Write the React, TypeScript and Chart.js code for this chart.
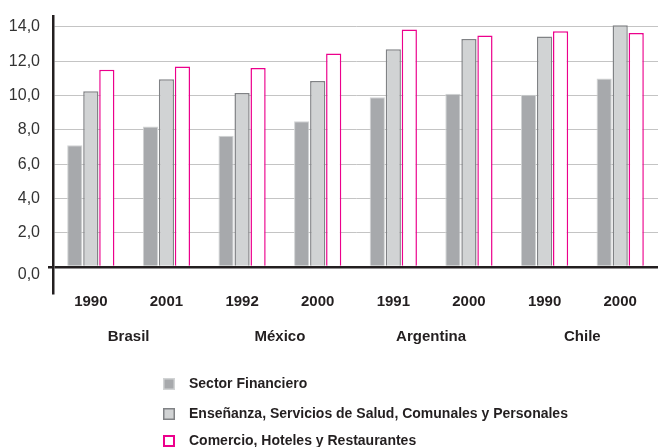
import { useEffect, useRef } from 'react';
import { Chart, registerables } from 'chart.js';

Chart.register(...registerables);

const years = ['1990', '2001', '1992', '2000', '1991', '2000', '1990', '2000'];
const countries = ['Brasil', 'México', 'Argentina', 'Chile'];
const yTicks = [0, 2, 4, 6, 8, 10, 12, 14];

const sectorFinanciero = [7.1, 8.2, 7.65, 8.5, 9.9, 10.1, 10.05, 11.0];
const ensenanza = [10.25, 10.95, 10.15, 10.85, 12.7, 13.3, 13.45, 14.1];
const comercio = [11.5, 11.7, 11.6, 12.45, 13.85, 13.5, 13.75, 13.65];

const seriesNames = [
  'Sector Financiero',
  'Enseñanza, Servicios de Salud, Comunales y Personales',
  'Comercio, Hoteles y Restaurantes',
];

const FONT = "'Liberation Sans', Arial, sans-serif";
const DARK = '#231f20';

const fills = ['#a7a9ac', '#d1d3d4', '#ffffff'];
const borders = ['#d1d3d4', '#808285', '#ec008c'];

export default function App() {
  const ref = useRef<HTMLCanvasElement>(null);

  useEffect(() => {
    const extras = {
      id: 'extras',
      afterDraw(chart: any) {
        const ctx = chart.ctx as CanvasRenderingContext2D;
        const x = chart.scales.x;
        ctx.save();
        // country labels
        ctx.fillStyle = DARK;
        ctx.font = `bold 15px ${FONT}`;
        ctx.textAlign = 'center';
        ctx.textBaseline = 'middle';
        countries.forEach((c, i) => {
          const cx = (x.getPixelForValue(i * 2) + x.getPixelForValue(i * 2 + 1)) / 2;
          ctx.fillText(c, cx, 337);
        });
        // legend
        const tops = [378, 408, 435];
        const widths = [1.5, 1.5, 2];
        ctx.textAlign = 'left';
        ctx.font = `bold 14px ${FONT}`;
        seriesNames.forEach((name, i) => {
          const t = tops[i];
          ctx.fillStyle = fills[i];
          ctx.fillRect(163, t, 12, 12);
          ctx.strokeStyle = borders[i];
          ctx.lineWidth = widths[i];
          ctx.strokeRect(163 + widths[i] / 2, t + widths[i] / 2, 12 - widths[i], 12 - widths[i]);
          ctx.fillStyle = DARK;
          ctx.fillText(name, 189, t + 6);
        });
        ctx.restore();
      },
    };

    const chart = new Chart(ref.current!, {
      type: 'bar',
      data: {
        labels: years,
        datasets: [sectorFinanciero, ensenanza, comercio].map((d, i) => ({
          label: seriesNames[i],
          data: d,
          backgroundColor: fills[i],
          borderColor: borders[i],
          borderWidth: i === 0 ? 1 : 1.5,
          categoryPercentage: 0.635,
          barPercentage: 0.95,
        })),
      },
      options: {
        animation: false,
        responsive: true,
        maintainAspectRatio: false,
        layout: { padding: { top: 14, left: 0, right: 0, bottom: 0 } },
        plugins: {
          legend: { display: false },
          tooltip: { enabled: false },
        },
        scales: {
          x: {
            grid: { display: false },
            border: { display: false },
            ticks: {
              font: { family: FONT, size: 15, weight: 'bold', lineHeight: 1 },
              color: DARK,
              padding: -7,
              maxRotation: 0,
              autoSkip: false,
            },
            afterFit(scale: any) {
              scale.height = 154;
            },
          },
          y: {
            min: -1.52,
            max: 14.64,
            afterBuildTicks(scale: any) {
              scale.ticks = yTicks.map((v) => ({ value: v }));
            },
            afterFit(scale: any) {
              scale.width = 53;
            },
            border: { display: true, color: DARK, width: 2.5 },
            grid: {
              color: (c: any) => (c.tick && c.tick.value === 0 ? DARK : '#c4c4c4'),
              lineWidth: (c: any) => (c.tick && c.tick.value === 0 ? 2.5 : 1),
              tickColor: (c: any) => (c.tick && c.tick.value === 0 ? DARK : 'rgba(0,0,0,0)'),
              tickLength: 5,
            },
            ticks: {
              font: { family: FONT, size: 16, lineHeight: 1 },
              color: '#333333',
              padding: 8,
              callback: (v: any) => {
                const s = Number(v).toFixed(1).replace('.', ',');
                return Number(v) === 0 ? ['', s] : s;
              },
            },
          },
        },
      },
      plugins: [extras],
    });
    return () => chart.destroy();
  }, []);

  return (
    <div style={{ position: 'fixed', left: 0, top: 0, width: 658, height: 447, background: '#fff' }}>
      <canvas ref={ref} />
    </div>
  );
}
